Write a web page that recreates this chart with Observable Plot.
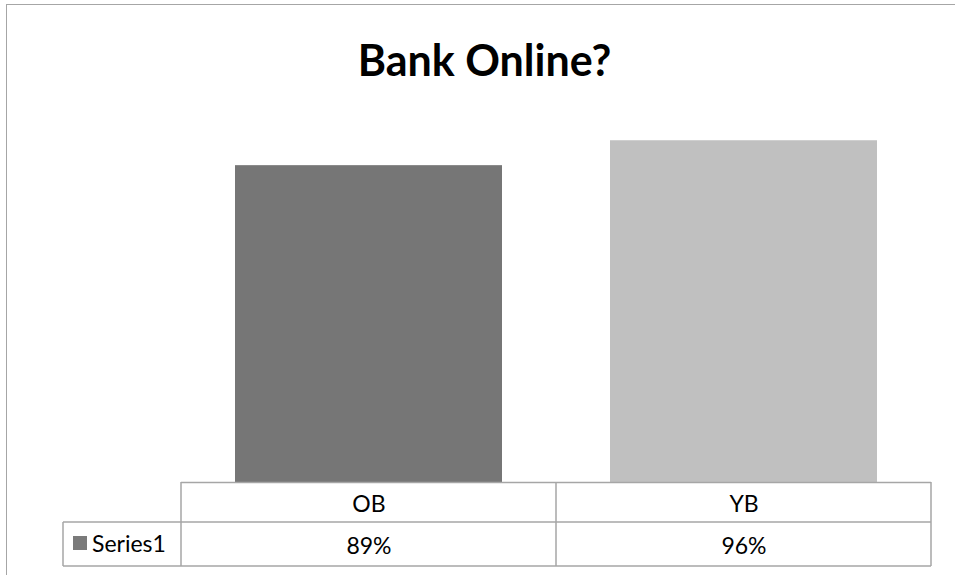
<!DOCTYPE html>
<html>
<head>
<meta charset="utf-8">
<script src="https://cdn.jsdelivr.net/npm/d3@7"></script>
<script src="https://cdn.jsdelivr.net/npm/@observablehq/plot@0.6"></script>
<style>
  html, body { margin: 0; padding: 0; background: #fff; overflow: hidden; width: 955px; height: 575px; }
  #frame { position: absolute; left: 6px; top: 4px; width: 1000px; height: 700px; border: 1.5px solid #a6a6a6; box-sizing: border-box; pointer-events: none; }
  #wrap { position: absolute; left: 0; top: 0; width: 955px; height: 575px; }
  #title { position: relative; height: 120px; font-family: Lato, "Open Sans", sans-serif; font-weight: bold; font-size: 43px; color: #000; }
  #title span { position: absolute; left: 0; width: 969px; text-align: center; top: 38px; line-height: 43px; }
  #chart svg { display: block; }
</style>
</head>
<body>
<div id="wrap">
  <div id="title"><span>Bank Online?</span></div>
  <div id="chart"></div>
</div>
<div id="frame"></div>
<script>
const categories = ["OB", "YB"];
const values = [0.89, 0.96];
const barColors = ["#767676", "#c0c0c0"];
const seriesName = "Series1";
const swatchColor = "#7a7a7a";

const data = categories.map((c, i) => ({cat: c, value: values[i], color: barColors[i]}));
const fmt = d3.format(".0%");

const FONT = "Lato, 'Open Sans', sans-serif";
const FS = 23;
const ROW1 = 40, ROW2 = 44, LEGW = 118;

function tableMark(index, scales, vals, dims) {
  const x = scales.x, y = scales.y;
  const bw = x.bandwidth();
  const step = x(categories[1]) - x(categories[0]);
  const y0 = y(0);
  const lefts = categories.map(c => x(c) + bw / 2 - step / 2);
  const left = lefts[0];
  const right = lefts[lefts.length - 1] + step;
  const g = d3.create("svg:g");
  const lines = g.append("g").attr("stroke", "#a6a6a6").attr("stroke-width", 1.5).attr("fill", "none");
  const seg = (x1, y1, x2, y2) => lines.append("line").attr("x1", x1).attr("y1", y1).attr("x2", x2).attr("y2", y2);
  seg(left, y0 + 0.5, right, y0 + 0.5);
  seg(left - LEGW, y0 + ROW1, right, y0 + ROW1);
  seg(left - LEGW, y0 + ROW1 + ROW2, right, y0 + ROW1 + ROW2);
  lefts.forEach(l => seg(l, y0, l, y0 + ROW1 + ROW2));
  seg(right, y0, right, y0 + ROW1 + ROW2);
  seg(left - LEGW, y0 + ROW1, left - LEGW, y0 + ROW1 + ROW2);
  g.append("rect").attr("x", left - 108).attr("y", y0 + 54).attr("width", 14).attr("height", 14).attr("fill", swatchColor);
  g.append("text").attr("x", left - 89).attr("y", y0 + 62).attr("dy", "0.34em")
    .attr("text-anchor", "start")
    .attr("font-family", FONT).attr("font-size", FS).attr("fill", "#000").text(seriesName);
  return g.node();
}

const chart = Plot.plot({
  width: 955,
  height: 455,
  marginLeft: 181,
  marginRight: 24,
  marginTop: 6,
  marginBottom: 93,
  style: {fontFamily: FONT, background: "transparent", overflow: "visible"},
  x: {domain: categories, paddingInner: 0.288, paddingOuter: 0.144, axis: null},
  y: {domain: [0, 1], axis: null},
  marks: [
    Plot.barY(data, {x: "cat", y: "value", fill: "color"}),
    Plot.text(data, {x: "cat", y: () => 0, dy: 22, text: "cat", fontSize: FS, fill: "#000", lineAnchor: "middle"}),
    Plot.text(data, {x: "cat", y: () => 0, dy: 64, text: d => fmt(d.value), fontSize: FS, fill: "#000", lineAnchor: "middle"}),
    tableMark
  ]
});
document.getElementById("chart").appendChild(chart);
</script>
</body>
</html>
